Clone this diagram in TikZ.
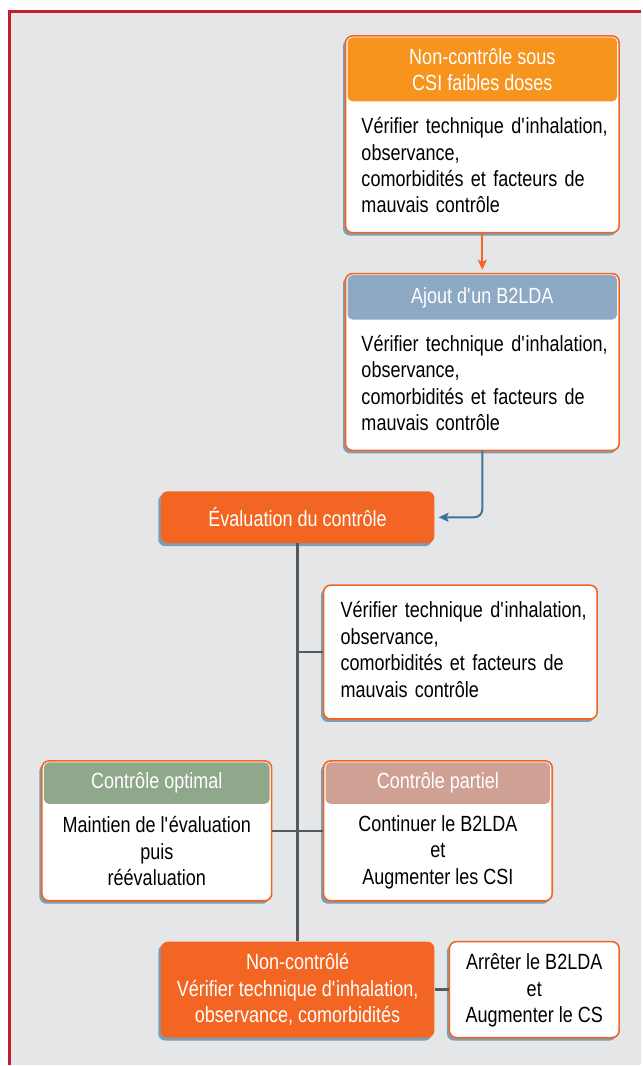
\documentclass[tikz,border=0pt]{standalone}
\usepackage{fontspec}
\setmainfont{Liberation Sans}[FakeStretch=0.82]
\usetikzlibrary{arrows,arrows.meta,positioning,calc,shadows}
\definecolor{fond}{RGB}{228,230,232}
\definecolor{rougeCadre}{RGB}{196,30,46}
\definecolor{orangeClair}{RGB}{247,148,30}
\definecolor{orangeFonce}{RGB}{242,101,34}
\definecolor{bleuGris}{RGB}{141,169,196}
\definecolor{vertGris}{RGB}{143,167,139}
\definecolor{roseGris}{RGB}{207,161,149}
\definecolor{ombre}{RGB}{127,157,178}
\definecolor{bleuFleche}{RGB}{61,116,153}
\definecolor{grisLien}{RGB}{85,88,92}
\newcommand{\ap}{\textquotesingle}

\begin{document}
\begin{tikzpicture}[x=1pt,y=-1pt]
\tikzstyle{every node}=[font=\fontsize{22}{26.5}\selectfont]
\tikzstyle{cadre}=[draw=orangeFonce,line width=1.6pt,fill=white,rounded corners=7pt,drop shadow={shadow xshift=-2.5pt,shadow yshift=-3pt,fill=ombre,opacity=1}]
\tikzstyle{plein}=[fill=orangeFonce,rounded corners=7pt,text=white,align=center,drop shadow={shadow xshift=-2.5pt,shadow yshift=-3pt,fill=ombre,opacity=1}]
\tikzstyle{entete}=[rounded corners=5pt,text=white,align=center,inner sep=0pt]
\tikzstyle{texte}=[align=left,text width=250pt,inner sep=0pt]
\tikzstyle{centre}=[align=center,inner sep=0pt]
\tikzstyle{liaison}=[draw=grisLien,line width=2.5pt]
\tikzstyle{fleche}=[-{Stealth[length=10pt,width=9pt,inset=2pt]},line width=2pt]
\def\ColDroite{483}
\def\ColMilieu{298}
\def\HautEntete{41.5}
% fond et filet rouge
\fill[fond] (9,11) rectangle (642,1066);
\draw[rougeCadre,line width=3pt] (9.4,1066) -- (9.4,11.7) -- (642,11.7);
\useasboundingbox (0,0) rectangle (642,1066);
% non-controle sous CSI
\node[cadre,minimum width=274pt,minimum height=197pt] (ns) at (\ColDroite,134.5) {};
\node[entete,fill=orangeClair,minimum width=270pt,minimum height=64pt] (nsT) at (\ColDroite,69.5) {Non-contrôle sous\\CSI faibles doses};
\node[texte] (nsB) at (487,165.5) {Vérifier technique d\ap inhalation,\\observance,\\comorbidités et facteurs de\\mauvais contrôle};
% ajout B2LDA
\node[cadre,minimum width=274pt,minimum height=177pt] (aj) at (\ColDroite,362.5) {};
\node[entete,fill=bleuGris,minimum width=270pt,minimum height=44.5pt] (ajT) at (\ColDroite,297.75) {Ajout d\ap un B2LDA};
\node[texte] (ajB) at (487,383.5) {Vérifier technique d\ap inhalation,\\observance,\\comorbidités et facteurs de\\mauvais contrôle};
% evaluation
\node[plein,minimum width=274pt,minimum height=52pt] (ev) at (\ColMilieu,518) {Évaluation du contrôle};
% verifier
\node[cadre,minimum width=274pt,minimum height=134pt] (ve) at (461,653) {};
\node[texte] (veB) at (466,650.5) {Vérifier technique d\ap inhalation,\\observance,\\comorbidités et facteurs de\\mauvais contrôle};
% controle optimal
\node[cadre,minimum width=230pt,minimum height=140pt] (op) at (157,832) {};
\node[entete,fill=vertGris,minimum width=226pt,minimum height=\HautEntete pt] (opT) at (157,784.25) {Contrôle optimal};
\node[centre] (opB) at (157,852.5) {Maintien de l\ap évaluation\\puis\\réévaluation};
% controle partiel
\node[cadre,minimum width=229pt,minimum height=140pt] (pa) at (438.5,832) {};
\node[entete,fill=roseGris,minimum width=225pt,minimum height=\HautEntete pt] (paT) at (438.5,784.25) {Contrôle partiel};
\node[centre] (paB) at (438.5,853.5) {Continuer le B2LDA\\et\\Augmenter les CSI};
% non controle
\node[plein,minimum width=274pt,minimum height=96pt,inner sep=0pt] (nc) at (\ColMilieu,991) {Non-contrôlé\\Vérifier technique d\ap inhalation,\\observance, comorbidités};
\node[cadre,minimum width=170pt,minimum height=96pt] (ar) at (535,991) {};
\node[centre] (arB) at (535,992) {Arrêter le B2LDA\\et\\Augmenter le CS};
% liaisons
\draw[fleche,orangeFonce,shorten >=3pt] (ns.south) -- (aj.north);
\draw[fleche,bleuFleche,rounded corners=8pt,shorten >=4pt] (aj.south) |- (ev.east);
\draw[liaison] (ev.south) -- (nc.north);
\draw[liaison] (ve.west) -- (ve.west -| ev.south);
\draw[liaison] (op.east) -- (pa.west);
\draw[liaison] (nc.east) -- (ar.west);
\end{tikzpicture}
\end{document}
